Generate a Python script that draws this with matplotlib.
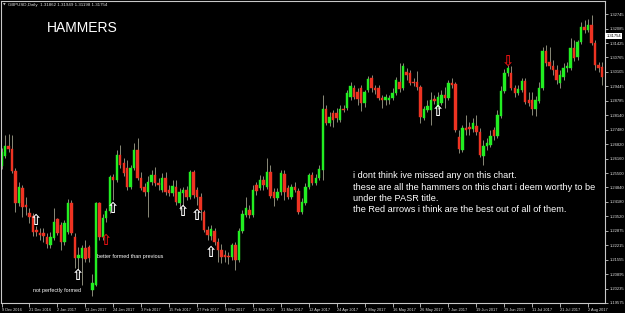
import numpy as np
import matplotlib.pyplot as plt
from matplotlib.transforms import ScaledTranslation, blended_transform_factory

# GBPUSD daily candles (bar 0 = 9 Dec 2016)
opens = [1.2583, 1.2629, 1.2674, 1.2660, 1.2560, 1.2414, 1.2483, 1.2405, 1.2368, 1.2355,
         1.2291, 1.2277, 1.2277, 1.2259, 1.2223, 1.2255, 1.2341, 1.2314, 1.2237, 1.2282,
         1.2414, 1.2259, 1.2164, 1.2164, 1.2210, 1.2214, 1.2018, 1.2041, 1.2414, 1.2259,
         1.2346, 1.2377, 1.2533, 1.2519, 1.2633, 1.2596, 1.2574, 1.2487, 1.2574, 1.2656,
         1.2528, 1.2487, 1.2465, 1.2510, 1.2542, 1.2505, 1.2474, 1.2528, 1.2474, 1.2460,
         1.2487, 1.2414, 1.2460, 1.2474, 1.2442, 1.2556, 1.2474, 1.2442, 1.2373, 1.2291,
         1.2264, 1.2286, 1.2237, 1.2200, 1.2177, 1.2173, 1.2168, 1.2223, 1.2155, 1.2286,
         1.2359, 1.2382, 1.2359, 1.2496, 1.2483, 1.2519, 1.2487, 1.2556, 1.2465, 1.2437,
         1.2465, 1.2547, 1.2483, 1.2442, 1.2487, 1.2469, 1.2373, 1.2414, 1.2487, 1.2542,
         1.2505, 1.2528, 1.2565, 1.2842, 1.2778, 1.2824, 1.2824, 1.2792, 1.2842, 1.2847,
         1.2897, 1.2938, 1.2920, 1.2938, 1.2869, 1.2929, 1.2984, 1.2938, 1.2938, 1.2893,
         1.2883, 1.2883, 1.2893, 1.2915, 1.2965, 1.2938, 1.3011, 1.3006, 1.2965, 1.2965,
         1.2943, 1.2801, 1.2838, 1.2838, 1.2888, 1.2851, 1.2869, 1.2906, 1.2893, 1.2961,
         1.2956, 1.2715, 1.2656, 1.2756, 1.2760, 1.2751, 1.2765, 1.2738, 1.2629, 1.2674,
         1.2678, 1.2747, 1.2720, 1.2811, 1.2924, 1.3006, 1.3006, 1.2938, 1.2915, 1.2929,
         1.2970, 1.2883, 1.2883, 1.2842, 1.2879, 1.2938, 1.3106, 1.3056, 1.3038, 1.3020,
         1.2961, 1.2988, 1.3029, 1.3029, 1.3120, 1.3079, 1.3147, 1.3215, 1.3202, 1.3224,
         1.3143, 1.3043, 1.3034]
highs = [1.2665, 1.2724, 1.2729, 1.2724, 1.2574, 1.2510, 1.2496, 1.2442, 1.2392, 1.2368,
         1.2310, 1.2301, 1.2301, 1.2277, 1.2282, 1.2392, 1.2346, 1.2328, 1.2337, 1.2433,
         1.2428, 1.2277, 1.2214, 1.2223, 1.2246, 1.2223, 1.2091, 1.2419, 1.2419, 1.2364,
         1.2392, 1.2542, 1.2547, 1.2656, 1.2678, 1.2620, 1.2610, 1.2587, 1.2687, 1.2710,
         1.2556, 1.2505, 1.2538, 1.2565, 1.2578, 1.2528, 1.2551, 1.2556, 1.2496, 1.2519,
         1.2519, 1.2483, 1.2487, 1.2492, 1.2565, 1.2565, 1.2487, 1.2460, 1.2382, 1.2310,
         1.2314, 1.2301, 1.2255, 1.2228, 1.2200, 1.2191, 1.2232, 1.2237, 1.2301, 1.2382,
         1.2442, 1.2405, 1.2496, 1.2510, 1.2542, 1.2538, 1.2620, 1.2587, 1.2483, 1.2483,
         1.2565, 1.2565, 1.2496, 1.2501, 1.2510, 1.2483, 1.2437, 1.2505, 1.2551, 1.2556,
         1.2547, 1.2587, 1.2906, 1.2860, 1.2829, 1.2838, 1.2847, 1.2860, 1.2860, 1.2929,
         1.2965, 1.2952, 1.2938, 1.2952, 1.2929, 1.2993, 1.2997, 1.2952, 1.2952, 1.2906,
         1.2911, 1.2906, 1.2938, 1.2988, 1.3052, 1.3052, 1.3029, 1.3020, 1.2984, 1.3015,
         1.2952, 1.2856, 1.2883, 1.2920, 1.2906, 1.2920, 1.2929, 1.2943, 1.2974, 1.2984,
         1.2965, 1.2747, 1.2769, 1.2815, 1.2783, 1.2801, 1.2815, 1.2756, 1.2701, 1.2710,
         1.2747, 1.2760, 1.2838, 1.2947, 1.3024, 1.3043, 1.3038, 1.2952, 1.2952, 1.2984,
         1.2984, 1.2920, 1.2920, 1.2902, 1.2965, 1.3125, 1.3134, 1.3125, 1.3065, 1.3043,
         1.3020, 1.3052, 1.3056, 1.3165, 1.3156, 1.3156, 1.3238, 1.3247, 1.3252, 1.3270,
         1.3156, 1.3056, 1.3056]
lows = [1.2569, 1.2620, 1.2647, 1.2551, 1.2373, 1.2401, 1.2350, 1.2359, 1.2323, 1.2264,
        1.2264, 1.2246, 1.2237, 1.2210, 1.2210, 1.2246, 1.2268, 1.2200, 1.2223, 1.2273,
        1.2268, 1.2118, 1.2109, 1.2041, 1.2146, 1.2146, 1.1991, 1.2037, 1.2246, 1.2246,
        1.2328, 1.2368, 1.2428, 1.2510, 1.2574, 1.2538, 1.2474, 1.2478, 1.2565, 1.2519,
        1.2474, 1.2447, 1.2350, 1.2496, 1.2492, 1.2474, 1.2465, 1.2451, 1.2447, 1.2447,
        1.2405, 1.2382, 1.2401, 1.2428, 1.2433, 1.2437, 1.2405, 1.2337, 1.2282, 1.2246,
        1.2246, 1.2223, 1.2146, 1.2141, 1.2146, 1.2137, 1.2155, 1.2109, 1.2146, 1.2277,
        1.2350, 1.2346, 1.2350, 1.2451, 1.2474, 1.2474, 1.2478, 1.2437, 1.2401, 1.2428,
        1.2451, 1.2428, 1.2433, 1.2433, 1.2465, 1.2364, 1.2364, 1.2405, 1.2478, 1.2496,
        1.2496, 1.2519, 1.2519, 1.2769, 1.2765, 1.2760, 1.2783, 1.2783, 1.2829, 1.2838,
        1.2883, 1.2888, 1.2860, 1.2833, 1.2851, 1.2920, 1.2920, 1.2911, 1.2883, 1.2847,
        1.2860, 1.2865, 1.2883, 1.2906, 1.2920, 1.2929, 1.2974, 1.2952, 1.2947, 1.2929,
        1.2778, 1.2792, 1.2829, 1.2769, 1.2865, 1.2842, 1.2860, 1.2847, 1.2883, 1.2938,
        1.2738, 1.2642, 1.2647, 1.2724, 1.2724, 1.2738, 1.2724, 1.2624, 1.2587, 1.2656,
        1.2669, 1.2701, 1.2710, 1.2801, 1.2915, 1.2993, 1.2929, 1.2897, 1.2906, 1.2920,
        1.2865, 1.2856, 1.2815, 1.2811, 1.2869, 1.2929, 1.3038, 1.3024, 1.2997, 1.2956,
        1.2938, 1.2974, 1.3011, 1.3020, 1.3061, 1.3065, 1.3138, 1.3188, 1.3193, 1.3134,
        1.3020, 1.3011, 1.2952]
closes = [1.2647, 1.2674, 1.2660, 1.2560, 1.2414, 1.2487, 1.2396, 1.2396, 1.2350, 1.2282,
          1.2282, 1.2268, 1.2264, 1.2228, 1.2259, 1.2328, 1.2277, 1.2237, 1.2323, 1.2414,
          1.2277, 1.2164, 1.2177, 1.2210, 1.2159, 1.2164, 1.2050, 1.2414, 1.2259, 1.2346,
          1.2377, 1.2533, 1.2519, 1.2633, 1.2587, 1.2551, 1.2487, 1.2574, 1.2656, 1.2528,
          1.2483, 1.2465, 1.2510, 1.2542, 1.2505, 1.2496, 1.2528, 1.2465, 1.2460, 1.2492,
          1.2419, 1.2465, 1.2474, 1.2442, 1.2556, 1.2451, 1.2442, 1.2382, 1.2291, 1.2268,
          1.2296, 1.2237, 1.2200, 1.2168, 1.2168, 1.2168, 1.2223, 1.2155, 1.2286, 1.2364,
          1.2392, 1.2359, 1.2474, 1.2469, 1.2519, 1.2496, 1.2556, 1.2447, 1.2437, 1.2465,
          1.2551, 1.2465, 1.2442, 1.2487, 1.2474, 1.2373, 1.2419, 1.2487, 1.2542, 1.2505,
          1.2528, 1.2569, 1.2842, 1.2778, 1.2806, 1.2792, 1.2801, 1.2842, 1.2838, 1.2915,
          1.2947, 1.2897, 1.2888, 1.2869, 1.2920, 1.2979, 1.2938, 1.2929, 1.2893, 1.2883,
          1.2897, 1.2893, 1.2915, 1.2974, 1.2933, 1.3038, 1.2997, 1.2961, 1.2961, 1.2943,
          1.2806, 1.2842, 1.2856, 1.2883, 1.2879, 1.2897, 1.2906, 1.2893, 1.2961, 1.2952,
          1.2747, 1.2660, 1.2756, 1.2747, 1.2751, 1.2778, 1.2738, 1.2633, 1.2674, 1.2687,
          1.2720, 1.2720, 1.2815, 1.2924, 1.3006, 1.3029, 1.2938, 1.2915, 1.2933, 1.2970,
          1.2874, 1.2869, 1.2842, 1.2883, 1.2938, 1.3106, 1.3052, 1.3038, 1.3020, 1.2974,
          1.2997, 1.3029, 1.3038, 1.3120, 1.3074, 1.3147, 1.3215, 1.3202, 1.3224, 1.3143,
          1.3043, 1.3029, 1.2988]

date_labels = ['9 Dec 2016', '21 Dec 2016', '2 Jan 2017', '12 Jan 2017', '24 Jan 2017',
               '3 Feb 2017', '15 Feb 2017', '27 Feb 2017', '9 Mar 2017', '21 Mar 2017',
               '31 Mar 2017', '12 Apr 2017', '24 Apr 2017', '4 May 2017', '16 May 2017',
               '26 May 2017', '7 Jun 2017', '19 Jun 2017', '29 Jun 2017', '11 Jul 2017',
               '21 Jul 2017', '2 Aug 2017']
price_ticks = [1.19575, 1.20235, 1.20895, 1.21555, 1.22215, 1.22875, 1.23520, 1.24180,
               1.24840, 1.25500, 1.26160, 1.26820, 1.27480, 1.28140, 1.28785, 1.29445,
               1.30105, 1.30765, 1.31425, 1.32085, 1.32745]
last_price = 1.31754

# hammer markers: (bar, price)
white_arrows = [(10, 1.2332), (22, 1.2082), (32, 1.2387), (52, 1.2373),
                (56, 1.2356), (60, 1.2187), (125, 1.2829)]
red_up_arrows = [(30, 1.2241)]
red_down_arrows = [(145, 1.3061)]

o = np.array(opens)
h = np.array(highs)
l = np.array(lows)
c = np.array(closes)
x = np.arange(len(c))
up = c >= o

fig = plt.figure(figsize=(6.25, 3.13), dpi=100, facecolor='black')
ax = fig.add_axes([1 / 625, 10 / 313, 603.5 / 625, 302 / 313])
ax.set_facecolor('black')

ax.vlines(x, l, h, color='#8a8a78', lw=0.7, zorder=1)
ax.bar(x[up], (c - o)[up], bottom=o[up], width=0.7, color='#22ee22',
       edgecolor='#22ee22', lw=0.3, zorder=2)
ax.bar(x[~up], (o - c)[~up], bottom=c[~up], width=0.7, color='#ee3322',
       edgecolor='#ee3322', lw=0.3, zorder=2)

ax.set_xlim(-0.15, 172.7)
ax.set_ylim(1.19575, 1.3334)

for s in ax.spines.values():
    s.set_color('#c8c8c8')
    s.set_linewidth(0.8)

ax.yaxis.tick_right()
ax.set_yticks(price_ticks)
ax.set_yticklabels(['%.5f' % v for v in price_ticks])
ax.set_xticks(np.arange(0, len(c), 8))
ax.set_xticklabels(date_labels, ha='left')
for lab in ax.get_xticklabels():
    lab.set_transform(lab.get_transform() + ScaledTranslation(1.5 / 100, 0, fig.dpi_scale_trans))
ax.tick_params(axis='y', colors='#c8c8c8', labelcolor='#e0e0e0', labelsize=3.0,
               length=2.5, width=0.6, pad=1.5)
ax.tick_params(axis='x', colors='#c8c8c8', labelcolor='#e0e0e0', labelsize=2.8,
               length=3, width=0.6, pad=0.5)
for lab in ax.get_xticklabels() + ax.get_yticklabels():
    lab.set_family('Liberation Sans')

trans = blended_transform_factory(ax.transAxes, ax.transData)
ax.text(1.003, last_price, '1.31754', transform=trans, fontsize=3.0, color='black',
        family='Liberation Sans', va='center', ha='left',
        bbox=dict(fc='white', ec='none', pad=0.6), clip_on=False)

for bx, py in white_arrows:
    ax.text(bx, py, '\u21e7', color='white', fontsize=10.5, ha='center', va='center',
            family='DejaVu Sans', fontweight='bold')
for bx, py in red_up_arrows:
    ax.text(bx, py, '\u21e7', color='#dd1111', fontsize=10.5, ha='center', va='center',
            family='DejaVu Sans', fontweight='bold')
for bx, py in red_down_arrows:
    ax.text(bx, py, '\u21e9', color='#dd1111', fontsize=10.5, ha='center', va='center',
            family='DejaVu Sans', fontweight='bold')


def px(xp, yp):
    return xp / 625, 1 - yp / 313


fig.text(*px(3, 5), '\u25bc', color='#c8c8c8', fontsize=2.5, va='center')
fig.text(*px(8, 5), 'GBPUSD,Daily  1.31862 1.31949 1.31198 1.31754', color='#e0e0e0',
         fontsize=3.2, family='Liberation Sans', va='center')
fig.text(*px(47, 28), 'HAMMERS', color='white', fontsize=10, family='Liberation Sans',
         va='center')

note = ['i dont think ive missed any on this chart.',
        'these are all the hammers on this chart i deem worthy to be',
        'under the PASR title.',
        'the Red arrows i think are the best out of all of them.']
for i, line in enumerate(note):
    fig.text(*px(353, 178.3 + 11.2 * i), line, color='white', fontsize=6.6,
             family='Liberation Sans', va='baseline')

fig.text(*px(96.7, 258), 'better formed than previous', color='white', fontsize=3.9,
         family='Liberation Sans', va='baseline')
fig.text(*px(33.3, 291.7), 'not perfectly formed', color='white', fontsize=3.9,
         family='Liberation Sans', va='baseline')

fig.savefig('out.png', dpi=100, facecolor='black')
